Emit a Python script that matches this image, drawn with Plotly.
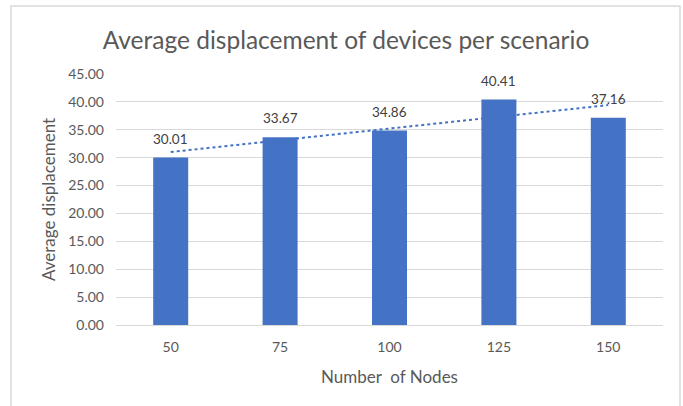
"""
Average displacement of devices per scenario
Excel-style column chart with a linear trendline
"""
import numpy as np
import plotly.graph_objects as go

# data
nodes = ["50", "75", "100", "125", "150"]
avg_displacement = [30.01, 33.67, 34.86, 40.41, 37.16]
y_ticks = [0, 5, 10, 15, 20, 25, 30, 35, 40, 45]

W, H = 683, 406
M_L, M_R, M_T, M_B = 116, 20, 74, 81
FONT = "Lato, Carlito, Calibri, sans-serif"
GREY = "#595959"
BLUE = "#4472C4"

# linear trendline over category positions (like Excel)
pos = np.arange(1, len(nodes) + 1)
slope, intercept = np.polyfit(pos, avg_displacement, 1)
trend = slope * pos + intercept

fig = go.Figure()

fig.add_trace(go.Bar(
    x=nodes,
    y=avg_displacement,
    marker=dict(color=BLUE, line=dict(width=0)),
    showlegend=False,
))

fig.add_trace(go.Scatter(
    x=nodes,
    y=trend,
    mode="lines",
    line=dict(color=BLUE, width=2, dash="dot"),
    showlegend=False,
    hoverinfo="skip",
))

# data labels above the bars (x given as category index)
for i, val in enumerate(avg_displacement):
    fig.add_annotation(
        x=i, y=val, text=f"{val:.2f}",
        showarrow=False, yanchor="bottom", yshift=9,
        font=dict(family=FONT, size=13.5, color="#404040"),
    )


# outer chart border, given in pixels, converted to paper coords
def px_x(p):
    return (p - M_L) / (W - M_L - M_R)


def px_y(p):
    return (H - M_B - p) / (H - M_T - M_B)


fig.add_shape(
    type="rect", xref="paper", yref="paper",
    x0=px_x(11), x1=px_x(680), y0=px_y(6), y1=px_y(420),
    line=dict(color="#D9D9D9", width=1.5),
    fillcolor="rgba(0,0,0,0)", layer="below",
)

fig.update_layout(
    width=W, height=H,
    margin=dict(l=M_L, r=M_R, t=M_T, b=M_B),
    paper_bgcolor="white",
    plot_bgcolor="white",
    bargap=0.68,
    font=dict(family=FONT, color=GREY),
    title=dict(
        text="Average displacement of devices per scenario",
        x=346 / W, xref="container", xanchor="center",
        y=1 - 40 / H, yanchor="middle",
        font=dict(family=FONT, size=24.5, color=GREY),
    ),
)

fig.update_xaxes(
    type="category",
    range=[-0.5, len(nodes) - 0.5],
    showgrid=False,
    showline=True, linecolor="#D9D9D9", linewidth=1,
    ticks="", tickfont=dict(family=FONT, size=14, color=GREY),
    ticklabelstandoff=9,
    title=dict(text="Number  of Nodes", standoff=17,
               font=dict(family=FONT, size=17, color=GREY)),
)

fig.update_yaxes(
    range=[0, 45],
    tickvals=y_ticks,
    tickformat=".2f",
    showgrid=True, gridcolor="#D9D9D9", gridwidth=1,
    zeroline=False, showline=False,
    ticks="", tickfont=dict(family=FONT, size=14, color=GREY),
    ticklabelstandoff=11,
    title=dict(text="Average displacement", standoff=8,
               font=dict(family=FONT, size=17, color=GREY)),
)

# drop the default page margin so the chart sits at the window's corner
fig.write_html(
    "out.html",
    config={"displayModeBar": False},
    post_script="document.body.style.margin='0';",
)
